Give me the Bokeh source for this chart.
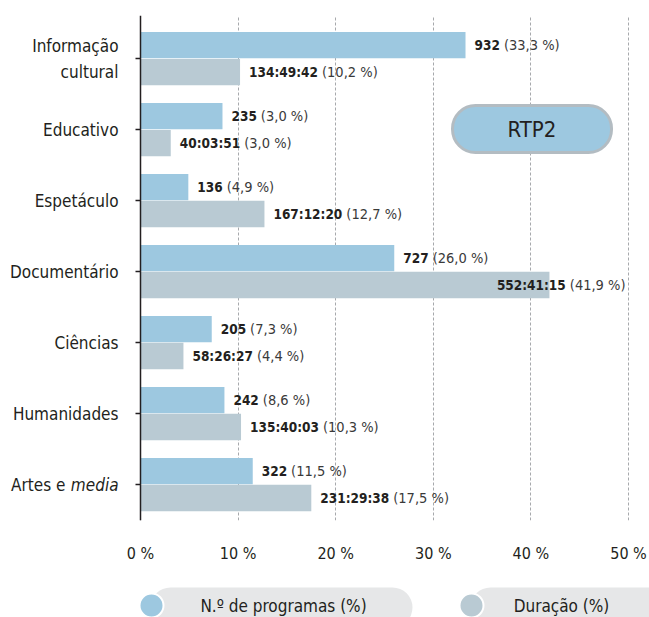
import math
from bokeh.plotting import figure
from bokeh.models import Range1d, FixedTicker, BoxAnnotation, Label, ColumnDataSource, Span
from bokeh.layouts import column
from bokeh.core.properties import value
from bokeh.embed import file_html
from bokeh.resources import INLINE

# ---------------- data ----------------
categories = ["Informação\ncultural", "Educativo", "Espetáculo", "Documentário",
              "Ciências", "Humanidades", "Artes e"]
categories_italic_tail = ["", "", "", "", "", "", "media"]
programas_n = ["932", "235", "136", "727", "205", "242", "322"]
programas_pct = [33.3, 8.4, 4.9, 26.0, 7.3, 8.6, 11.5]          # bar lengths as drawn
programas_pct_label = ["33,3", "3,0", "4,9", "26,0", "7,3", "8,6", "11,5"]
duracao_hms = ["134:49:42", "40:03:51", "167:12:20", "552:41:15",
               "58:26:27", "135:40:03", "231:29:38"]
duracao_pct = [10.2, 3.1, 12.7, 41.9, 4.4, 10.3, 17.5]
duracao_pct_label = ["10,2", "3,0", "12,7", "41,9", "4,4", "10,3", "17,5"]
x_ticks = [0, 10, 20, 30, 40, 50]
series_names = ["N.º de programas (%)", "Duração (%)"]
series_colors = ["#9dc8e0", "#b9cad3"]
panel_title = "RTP2"

FONT = "DejaVu Sans Condensed"
TXT = "#231f20"

# ---------------- geometry ----------------
W = 649
BAND_H = 5
H = 578
LH = 617 - BAND_H - H
TOP, BOTTOM = 10, 63
ZERO_PX = 140
pxu = 9.76                       # px per percent
x_start = -ZERO_PX / pxu
x_end = (W - ZERO_PX) / pxu
n = len(categories)
ypos = [n - 1 - i for i in range(n)]
Y0, Y1 = -0.507, 6.606
BAR_H = 0.37
OFF = 0.19

# text width estimates (em) for DejaVu Sans Condensed
def w_bold(s, size):
    t = {":": 0.400, " ": 0.348}
    return sum(t.get(c, 0.696) for c in s) * 0.9 * size

def w_reg(s, size):
    t = {"(": 0.390, ")": 0.390, ",": 0.318, " ": 0.318, "%": 0.950}
    return sum(t.get(c, 0.636) for c in s) * 0.9 * size

LB = 13.5
LR = 14.5
GAP = 9
LIMIT = 49.7 * pxu

def label_cols(vals, bold_txt, pct_txt, ycen):
    xs, ob, orr, tb, tr = [], [], [], [], []
    for v, b, pc in zip(vals, bold_txt, pct_txt):
        reg = "(" + pc + " %)"
        wb = w_bold(b, LB)
        total = wb + 4 + w_reg(reg, LR)
        start = v * pxu + GAP
        if start + total > LIMIT:
            start = LIMIT - total
        off_b = start - v * pxu
        xs.append(v)
        ob.append(off_b); orr.append(off_b + wb + 4)
        tb.append(b); tr.append(reg)
    return dict(x=xs, y=ycen, xo_b=ob, xo_r=orr, tb=tb, tr=tr)

y_blue = [y + OFF for y in ypos]
y_gray = [y - OFF for y in ypos]

# ---------------- top band ----------------
band = figure(width=W, height=BAND_H, output_backend="svg", toolbar_location=None,
              min_border_left=0, min_border_right=0, min_border_top=0, min_border_bottom=0,
              x_range=Range1d(0, 1), y_range=Range1d(0, 1))
band.axis.visible = False
band.grid.visible = False
band.outline_line_color = None
band.background_fill_color = "#e6e7e8"
band.border_fill_color = "#e6e7e8"

# ---------------- main chart ----------------
p = figure(width=W, height=H, output_backend="svg", toolbar_location=None,
           x_range=Range1d(x_start, x_end), y_range=Range1d(Y0, Y1),
           min_border_left=0, min_border_right=0,
           min_border_top=TOP, min_border_bottom=BOTTOM)
p.outline_line_color = None
p.background_fill_color = "white"
p.yaxis.visible = False

# category ticks (left of the axis line)
p.ray(x=[0] * n, y=ypos, length=5, length_units="screen", angle=math.pi,
      line_color=TXT, line_width=1.5)

p.hbar(y=y_blue, right=programas_pct, left=0, height=BAR_H,
       fill_color=series_colors[0], line_color=None)
p.hbar(y=y_gray, right=duracao_pct, left=0, height=BAR_H,
       fill_color=series_colors[1], line_color=None)

p.add_layout(Span(location=0, dimension="height", line_color=TXT, line_width=1.5))

# category labels
csrc = ColumnDataSource(dict(x=[0] * n, y=ypos, t=categories, ti=categories_italic_tail,
                             xo=[-22 - (53 if s else 0) for s in categories_italic_tail]))
p.text(x="x", y="y", text="t", source=csrc, x_offset="xo",
       text_font=value(FONT), text_font_size="17px", text_color=TXT,
       text_align="right", text_baseline="middle", text_line_height=1.3)
p.text(x="x", y="y", text="ti", source=csrc, x_offset=-22,
       text_font=value(FONT), text_font_style="italic", text_font_size="17px",
       text_color=TXT, text_align="right", text_baseline="middle")

# value labels
for vals, bt, pt, yc in [(programas_pct, programas_n, programas_pct_label, y_blue),
                         (duracao_pct, duracao_hms, duracao_pct_label, y_gray)]:
    src = ColumnDataSource(label_cols(vals, bt, pt, yc))
    p.text(x="x", y="y", text="tb", x_offset="xo_b", source=src,
           text_font=value(FONT), text_font_style="bold", text_font_size=f"{LB}px",
           text_color=TXT, text_align="left", text_baseline="middle")
    p.text(x="x", y="y", text="tr", x_offset="xo_r", source=src,
           text_font=value(FONT), text_font_size=f"{LR}px",
           text_color="#3a3a3a", text_align="left", text_baseline="middle")

# x axis
p.xaxis.ticker = FixedTicker(ticks=x_ticks)
p.xaxis.major_label_overrides = {t: f"{t} %" for t in x_ticks}
p.xaxis.axis_line_color = None
p.xaxis.major_tick_line_color = None
p.xaxis.minor_tick_line_color = None
p.xaxis.major_label_standoff = 17
p.xaxis.major_label_text_font = FONT
p.xaxis.major_label_text_font_size = "16px"
p.xaxis.major_label_text_color = TXT

p.xgrid.ticker = FixedTicker(ticks=x_ticks)
p.xgrid.grid_line_color = "#a7a9ac"
p.xgrid.grid_line_dash = "3 2"
p.xgrid.grid_line_width = 1
p.ygrid.grid_line_color = None

# RTP2 badge
p.add_layout(BoxAnnotation(left=31.97, right=48.26, top=5.338, bottom=4.676,
                           fill_color=series_colors[0], fill_alpha=1,
                           line_color="#b3bcc2", line_width=3, line_alpha=1,
                           border_radius=23))
p.add_layout(Label(x=40.1, y=5.007, text=panel_title, text_font=FONT,
                   text_font_size="22px", text_color=TXT,
                   text_align="center", text_baseline="middle"))

# ---------------- legend strip ----------------
leg = figure(width=W, height=LH, output_backend="svg", toolbar_location=None,
             x_range=Range1d(0, W), y_range=Range1d(0, LH),
             min_border_left=0, min_border_right=0, min_border_top=0, min_border_bottom=0)
leg.axis.visible = False
leg.grid.visible = False
leg.outline_line_color = None

pill_lr = [(150, 412), (470, 720)]
circ_x = [151, 471]
text_x = [283, 561]
for (l, r) in pill_lr:
    leg.add_layout(BoxAnnotation(left=l, right=r, top=30, bottom=-10,
                                 fill_color="#e6e7e8", fill_alpha=1, line_color=None,
                                 border_radius=20, level="underlay"))
leg.scatter(x=circ_x, y=[12, 12], size=24, marker="circle",
            fill_color=series_colors, line_color="white", line_width=2)
leg.text(x=text_x, y=[12, 12], text=series_names, text_font=value(FONT),
         text_font_size="17px", text_color=TXT, text_align="center", text_baseline="middle")

layout = column(band, p, leg, spacing=0)
open("out.html", "w").write(file_html(layout, INLINE))
